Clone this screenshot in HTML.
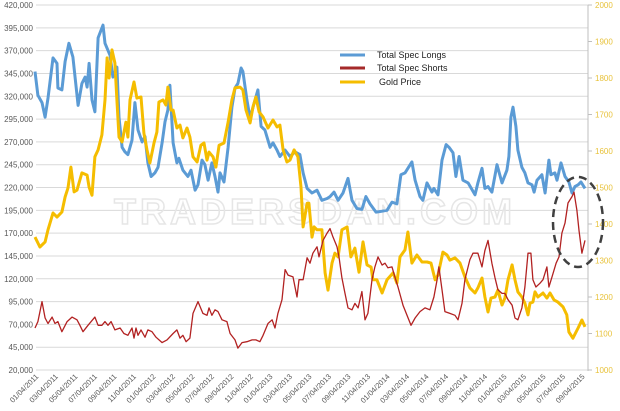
<!DOCTYPE html>
<html><head><meta charset="utf-8"><style>
html,body{margin:0;padding:0;background:#fff;}
svg{display:block;font-family:"Liberation Sans",sans-serif;}
</style></head><body>
<svg id="chart" width="620" height="411" viewBox="0 0 620 411">
<g id="grid"></g>
<text x="315" y="224" text-anchor="middle" font-size="36" font-weight="bold" letter-spacing="4" fill="none" stroke="#e6e6e6" stroke-width="1.5">TRADERSDAN.COM</text>
<g id="yl"></g>
<g id="yr"></g>
<g id="xl"></g>
<line x1="588" y1="5" x2="588" y2="371" stroke="#bfbfbf"/>
<g id="series"></g>
<ellipse cx="578" cy="222" rx="25" ry="45" fill="none" stroke="#404040" stroke-width="2.5" stroke-dasharray="8,5"/>
<g>
<g><line x1="340" y1="55" x2="365" y2="55" stroke="#5b9bd5" stroke-width="3"/><text x="377" y="58" font-size="9" fill="#222">Total Spec Longs</text></g>
<g><line x1="340" y1="68" x2="365" y2="68" stroke="#a52a2a" stroke-width="3"/><text x="377" y="71" font-size="9" fill="#222">Total Spec Shorts</text></g>
<g><line x1="340" y1="82" x2="365" y2="82" stroke="#f5bd00" stroke-width="3"/><text x="379" y="85" font-size="9" fill="#222">Gold Price</text></g>
</g>
</svg>
<script>
const leftTicks=[20000,45000,70000,95000,120000,145000,170000,195000,220000,245000,270000,295000,320000,345000,370000,395000,420000];
const rightTicks=[1000,1100,1200,1300,1400,1500,1600,1700,1800,1900,2000];
const xLabels=["01/04/2011","03/04/2011","05/04/2011","07/04/2011","09/04/2011","11/04/2011","01/04/2012","03/04/2012","05/04/2012","07/04/2012","09/04/2012","11/04/2012","01/04/2013","03/04/2013","05/04/2013","07/04/2013","09/04/2013","11/04/2013","01/04/2014","03/04/2014","05/04/2014","07/04/2014","09/04/2014","11/04/2014","01/04/2015","03/04/2015","05/04/2015","07/04/2015","09/04/2015"];
const longsWeeks=[0,1.3,3.1,4.5,5.8,8,9.8,10.2,12,13.4,15.1,16.9,19.2,20.9,22.3,23.2,24.1,25.4,26.7,28.1,30.3,31.2,33.4,34.7,36.5,37.4,38.8,40.1,41.4,43.2,44.5,45.9,47.7,49,50.3,51.7,53.4,54.8,56.6,57.9,59.2,60.1,61.5,63.2,64.1,65.9,68.1,69.5,71.3,72.6,74.4,75.7,77.1,78.8,80.2,81.5,82.4,84.2,86,87.7,89.1,90.4,91.8,92.6,94.4,95.8,97.1,99.3,100.7,102.4,104.7,106,107.8,109.1,111.4,113.6,115.8,118,119.4,121.2,123.4,125.6,127.8,130.1,131.4,133.2,135,137.2,139.4,141.2,143.4,145.6,147.4,149.2,151.9,154.6,156.8,159,161.2,163,164.8,167.9,169.3,171.5,172.8,174.6,176.8,177.7,179.5,181.3,183.1,184.4,186.2,187.5,188.9,190.6,192.9,196,197.3,199.1,200.4,201.8,203.5,205.8,208,210.2,211.1,212,212.9,214.2,215.1,216.9,218.2,219.6,221.4,222.3,223.6,225.8,227.2,228.9,229.8,231.6,232.5,234.3,236.1,237.8,239.2,240.5,241.9,243.2,245];
const longsK=[347,321,313,297,318,362,356,329,327,358,378,363,310,334,341,330,356,316,303,384,398,378,365,341,352,297,264,259,256,272,313,283,270,276,247,232,236,242,269,292,305,332,269,247,252,239,232,239,217,223,250,245,228,247,232,215,236,226,264,308,329,334,351,347,316,296,308,327,287,283,264,269,261,254,261,254,259,256,236,219,214,217,206,208,210,215,206,214,230,206,197,196,210,202,193,194,195,204,202,234,236,248,228,210,206,225,215,219,212,250,267,264,258,232,254,228,225,212,225,241,219,221,215,245,225,239,254,297,308,287,261,242,236,225,223,215,228,234,214,250,234,236,228,247,232,226,214,221,223,226,219];
const goldWeeks=[0,2.2,4.5,5.8,8,9.8,12,13.4,14.7,16,17.4,18.7,20.9,23.2,24.1,25.4,26.7,28.1,29.8,31.2,32.1,33,34.3,35.6,36.5,37.4,38.8,40.5,41.4,42.3,44.1,45.4,47.2,48.5,49.9,51.2,53,54.3,55.2,57,58.3,59.2,60.6,61.5,63.2,64.6,65.9,67.7,69,70.4,72.2,73.9,75.3,76.6,77.5,79.3,80.6,82,84.2,86,87.7,89.1,91.3,92.6,94,95.8,97.1,98.4,99.8,101.6,103.8,106,107.8,109.1,110.5,112.2,113.6,115.4,117.1,118.5,119.4,121.2,122,123.4,124.3,125.6,127.8,129.2,130.5,132.3,133.6,135,136.7,139,140.7,142.5,144.3,146.1,147.9,149.7,150.5,152.3,154.6,156.8,159.5,161.2,162.6,164.8,166.1,167.9,170.1,172.4,174.6,176.4,178.2,179.5,181.7,183.5,184.8,187.1,189.3,191.5,193.7,196,197.3,199.1,200.4,201.8,203.1,204.9,206.2,208,209.3,210.7,212.5,213.8,215.1,216.9,218.2,219.6,220.5,221.8,222.7,224,226.3,228,229.4,231.2,232.9,235.2,236.9,237.8,239.6,241.9,243.6,245];
const goldPrice=[1364,1337,1351,1384,1430,1419,1433,1474,1499,1556,1488,1493,1540,1534,1501,1479,1584,1603,1644,1740,1855,1800,1877,1841,1740,1638,1625,1679,1638,1740,1789,1745,1748,1649,1603,1567,1622,1652,1734,1740,1726,1775,1712,1712,1663,1671,1636,1663,1638,1584,1570,1616,1622,1575,1597,1584,1556,1616,1622,1679,1740,1773,1775,1767,1712,1677,1721,1748,1707,1693,1663,1685,1666,1671,1603,1570,1575,1603,1584,1501,1392,1457,1457,1364,1392,1384,1384,1266,1219,1293,1320,1310,1384,1392,1310,1334,1268,1351,1288,1282,1247,1247,1211,1247,1266,1238,1310,1329,1378,1293,1315,1296,1296,1293,1247,1260,1323,1315,1301,1307,1293,1255,1225,1211,1225,1252,1200,1159,1197,1200,1219,1178,1197,1247,1288,1247,1214,1200,1183,1151,1183,1186,1214,1200,1211,1197,1211,1192,1186,1173,1151,1104,1087,1115,1137,1118];
const shortsWeeks=[0,1.3,3.1,4.5,5.8,7.6,8.9,10.2,12,14.3,16.5,18.7,20,21.4,23.6,26.7,28.1,29.8,31.2,32.5,33.9,35.6,37.9,39.6,41.4,43.2,44.1,45,45.9,47.2,49,50.3,52.1,53.9,56.6,58.8,61.5,63.2,64.6,65.9,67.3,69,70.4,72.6,74.8,76.6,77.5,78.8,80.2,81.5,83.3,85.5,86.9,89.1,90.4,92.2,94.4,96.7,98.4,100.2,101.6,103.8,105.6,106.9,108.2,110,111.4,112.7,114.9,116.7,117.6,119.4,121.2,122.5,123.8,125.6,126.5,128.3,130.1,131.4,132.7,134.5,135.4,136.7,138.1,139.4,141.2,142.5,143.9,145.6,147,148.3,150.1,151.4,152.8,154.6,155.9,157.2,159,160.3,161.7,163.9,165.7,167.5,169.3,171.5,173.7,175.9,177.7,179.1,179.9,181.3,182.6,184.8,187.1,188.4,190.2,191.5,193.7,195.1,197.3,199.1,200.4,201.8,203.5,204.9,206.2,208,209.3,210.7,212.5,213.8,215.1,216.9,218.2,219.6,220.9,221.8,223.1,224.9,226.3,228,228.9,230.3,232.1,233.4,234.7,236.1,237.4,239.2,240.1,241.4,242.3,243.6,245];
const shortsK=[66,73,95,77,71,78,71,73,62,73,78,75,69,62,69,78,69,69,73,69,73,64,66,60,58,66,55,66,58,64,56,64,62,56,50,53,60,64,55,58,51,55,82,95,82,80,88,80,86,84,75,73,60,53,44,50,51,53,53,51,58,71,75,66,82,97,130,124,122,100,119,119,143,137,148,155,144,162,170,175,166,155,144,121,104,88,86,93,88,106,75,82,119,133,144,135,137,132,133,122,111,91,80,69,77,84,88,86,100,119,133,108,84,82,80,75,93,119,141,148,148,133,151,162,137,121,108,104,104,97,91,77,75,88,111,148,148,119,111,115,119,133,111,122,137,144,170,181,203,210,215,195,173,148,162];

const NS="http://www.w3.org/2000/svg";
const X0=35,PXW=2.245,TOP=5,H=365;
const xw=w=>X0+w*PXW;
const yL=v=>TOP+(420000-v)/400000*H;
const yR=v=>TOP+(2000-v)/1000*H;
function mk(tag,attrs,parent){const e=document.createElementNS(NS,tag);for(const k in attrs)e.setAttribute(k,attrs[k]);parent.appendChild(e);return e;}
const grid=document.getElementById('grid'),yl=document.getElementById('yl'),yr=document.getElementById('yr'),xl=document.getElementById('xl'),ser=document.getElementById('series');
leftTicks.forEach(t=>{
  const y=yL(t);
  const g=mk('line',{x1:36,x2:588,y1:y,y2:y,stroke:'#d9d9d9','stroke-width':1},grid);
  
  
  const tx=mk('text',{x:33,y:y+3,'text-anchor':'end','font-size':8,fill:'#595959'},yl);
  tx.textContent=t.toLocaleString('en-US');
  
  
});
rightTicks.forEach(t=>{
  const y=yR(t);
  const tk=mk('line',{x1:588,x2:592,y1:y,y2:y,stroke:'#bfbfbf'},yr);
  
  
  const tx=mk('text',{x:595,y:y+3,'font-size':8,fill:'#e8c23a'},yr);
  tx.textContent=t;
  
  
});
xLabels.forEach((l,i)=>{
  const w=i*2*4.345;
  const x=xw(w)+4,y=377;
  const tx=mk('text',{x:x,y:y,'text-anchor':'end','font-size':7.5,fill:'#595959',transform:`rotate(-45 ${x} ${y})`},xl);
  tx.textContent=l;
  
  
});
function line(ws,vs,yf,mult,color,width,name){
  const d=ws.map((w,i)=>(i?'L':'M')+xw(w).toFixed(1)+','+yf(vs[i]*mult).toFixed(1)).join('');
  const p=mk('path',{d:d,fill:'none',stroke:color,'stroke-width':width,'stroke-linejoin':'round'},ser);
  
  
}
line(longsWeeks,longsK,yL,1000,'#5b9bd5',3,'longs-line');
line(goldWeeks,goldPrice,yR,1,'#f5bd00',3,'gold-price-line');
line(shortsWeeks,shortsK,yL,1000,'#b22222',1.3,'shorts-line');
</script>
</body></html>
